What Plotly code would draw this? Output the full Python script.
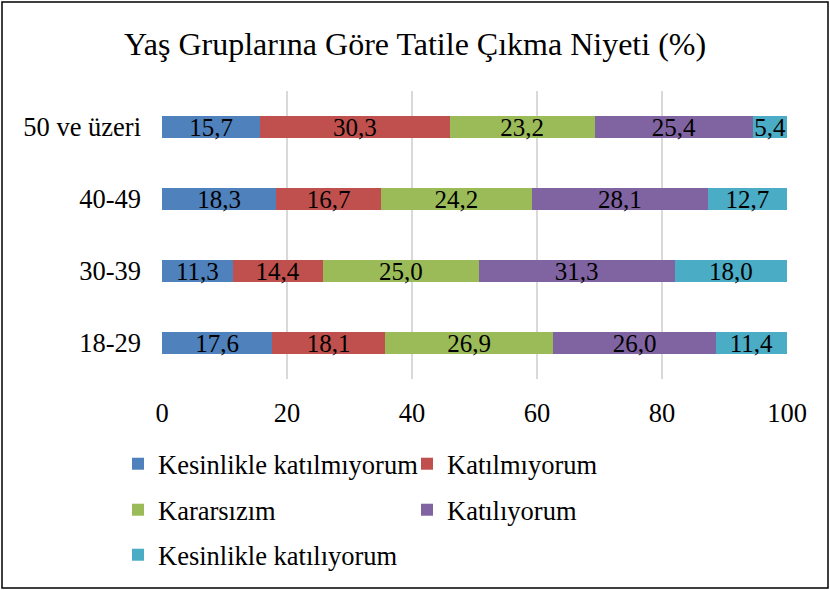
import plotly.graph_objects as go

categories = ["18-29", "30-39", "40-49", "50 ve üzeri"]
series_names = ["Kesinlikle katılmıyorum", "Katılmıyorum", "Kararsızım", "Katılıyorum", "Kesinlikle katılıyorum"]
kesinlikle_katilmiyorum = [17.6, 11.3, 18.3, 15.7]
katilmiyorum = [18.1, 14.4, 16.7, 30.3]
kararsizim = [26.9, 25.0, 24.2, 23.2]
katiliyorum = [26.0, 31.3, 28.1, 25.4]
kesinlikle_katiliyorum = [11.4, 18.0, 12.7, 5.4]
series_values = [kesinlikle_katilmiyorum, katilmiyorum, kararsizim, katiliyorum, kesinlikle_katiliyorum]
colors = ["#4F81BD", "#C0504D", "#9BBB59", "#8064A2", "#4BACC6"]
x_ticks = [0, 20, 40, 60, 80, 100]

FONT = "Liberation Serif, Times New Roman, serif"
W, H = 830, 590
L, R, T, B = 162, 43, 91, 211
pw, ph = W - L - R, H - T - B

def px_x(p):
    return (p - L) / pw

def px_y(p):
    return (H - B - p) / ph

legend_names = ["legend", "legend2", "legend3", "legend4", "legend5"]
legend_pos = [(159, 464), (448, 464), (159, 510), (448, 510), (159, 555)]

fig = go.Figure()
for i, (name, vals) in enumerate(zip(series_names, series_values)):
    fig.add_trace(go.Bar(
        y=categories, x=vals, name=name, orientation="h",
        marker=dict(color=colors[i], line=dict(width=0)),
        texttemplate="%{x:.1f}", textposition="inside", insidetextanchor="middle",
        textangle=0, constraintext="none",
        textfont=dict(family=FONT, size=25, color="black"),
        legend=legend_names[i], hoverinfo="skip",
    ))

layout_legends = {}
for i, ln in enumerate(legend_names):
    tx, ty = legend_pos[i]
    layout_legends[ln] = dict(
        x=px_x(tx - 41), y=px_y(ty), xanchor="left", yanchor="middle",
        font=dict(family=FONT, size=26.5, color="#000000"),
        bgcolor="rgba(0,0,0,0)", borderwidth=0,
    )

fig.update_layout(
    width=W, height=H,
    margin=dict(l=L, r=R, t=T, b=B, autoexpand=False),
    barmode="stack", bargap=0.694,
    separators=",.",
    paper_bgcolor="white", plot_bgcolor="white",
    font=dict(family=FONT, size=26, color="#000000"),
    title=dict(text="Yaş Gruplarına Göre Tatile Çıkma Niyeti (%)", x=0.5, xanchor="center",
               y=1 - 44 / H, yanchor="middle", font=dict(family=FONT, size=32, color="#000000")),
    xaxis=dict(range=[0, 100], tickvals=x_ticks, showgrid=True, gridcolor="#D9D9D9", gridwidth=1.5,
               zeroline=False, showline=False, ticks="", ticklabelstandoff=15,
               tickfont=dict(family=FONT, size=26.5, color="#000000")),
    yaxis=dict(categoryorder="array", categoryarray=categories, showgrid=False, zeroline=False,
               showline=False, ticks="", ticklabelstandoff=20,
               tickfont=dict(family=FONT, size=26.5, color="#000000")),
    showlegend=True,
    shapes=[dict(type="rect", xref="paper", yref="paper",
                 x0=px_x(2), x1=px_x(828), y0=px_y(588), y1=px_y(2),
                 line=dict(color="black", width=1.5), fillcolor="rgba(0,0,0,0)", layer="above")],
    **layout_legends,
)

fig.write_html("out.html", config={"displayModeBar": False},
               post_script="document.body.style.margin='0';")
